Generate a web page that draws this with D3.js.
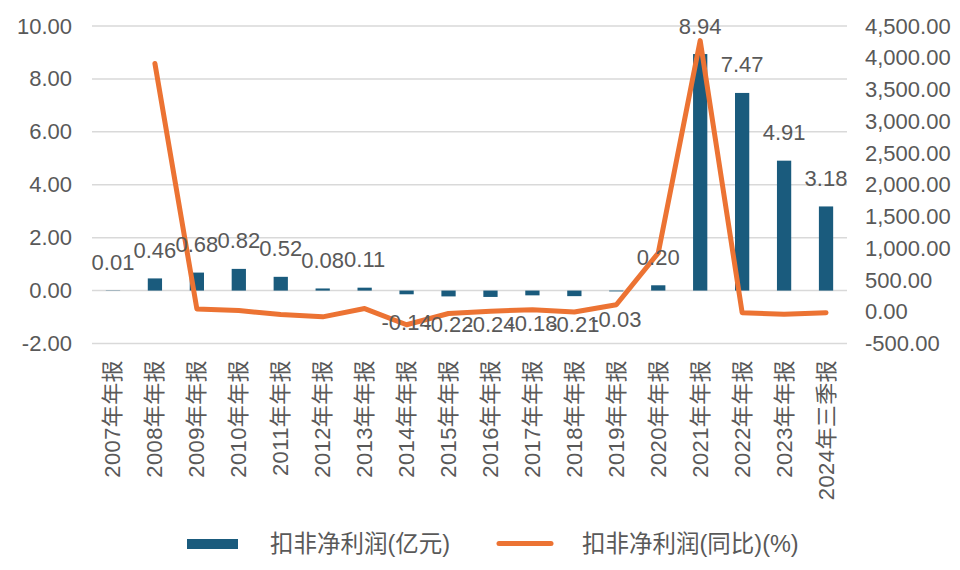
<!DOCTYPE html>
<html><head><meta charset="utf-8">
<script src="https://cdn.jsdelivr.net/npm/d3@7/dist/d3.min.js"></script>
<style>
body{margin:0;background:#fff;}
text{font-family:"Liberation Sans","Noto Sans CJK SC",Arial,sans-serif;fill:#595959;}
</style></head>
<body><svg id="chart" width="960" height="570"></svg>
<script>
const categories = ["2007年年报","2008年年报","2009年年报","2010年年报","2011年年报","2012年年报","2013年年报","2014年年报","2015年年报","2016年年报","2017年年报","2018年年报","2019年年报","2020年年报","2021年年报","2022年年报","2023年年报","2024年三季报"];
const profit = [0.01,0.46,0.68,0.82,0.52,0.08,0.11,-0.14,-0.22,-0.24,-0.18,-0.21,-0.03,0.20,8.94,7.47,4.91,3.18];
const growth = [null,3910,45,18,-45,-80,50,-205,-28,8,32,-5,110,925,4270,-15,-40,-15];
const leftTicks = [-2,0,2,4,6,8,10];
const rightTicks = [-500,0,500,1000,1500,2000,2500,3000,3500,4000,4500];
const seriesNames = ["扣非净利润(亿元)","扣非净利润(同比)(%)"];

const svg = d3.select("#chart");
const pL = 92, pR = 847, pT = 26, pB = 343.5;
const x = d3.scaleBand().domain(categories).range([pL, pR]).padding(0);
const yL = d3.scaleLinear().domain([-2,10]).range([pB, pT]);
const yR = d3.scaleLinear().domain([-500,4500]).range([pB, pT]);
const barColor = "#1a5b7d", lineColor = "#ec7333";
const loc = d3.formatLocale({decimal:".", thousands:",", grouping:[3], currency:["",""], minus:"-"});
const fmt2 = loc.format(",.2f");
const fmtL = loc.format(".2f");

// gridlines
svg.append("g").selectAll("line").data(leftTicks).join("line")
  .attr("x1", pL).attr("x2", pR)
  .attr("y1", d => yL(d)).attr("y2", d => yL(d))
  .attr("stroke", "#d9d9d9").attr("stroke-width", 1.5);

// left axis
const axL = svg.append("g").attr("transform", `translate(${pL-20},0)`)
  .call(d3.axisLeft(yL).tickValues(leftTicks).tickFormat(fmtL).tickSize(0).tickPadding(0));
axL.select(".domain").remove();
axL.selectAll("text").attr("font-size", 22).attr("fill", "#595959");

// right axis
const axR = svg.append("g").attr("transform", `translate(${pR+18},0)`)
  .call(d3.axisRight(yR).tickValues(rightTicks).tickFormat(fmt2).tickSize(0).tickPadding(0));
axR.select(".domain").remove();
axR.selectAll("text").attr("font-size", 22).attr("fill", "#595959");
svg.selectAll("g").attr("font-family", null);

// x labels
const xl = svg.append("g");
categories.forEach(c => {
  const cx = x(c) + x.bandwidth()/2;
  xl.append("text").attr("transform", `translate(${cx},360) rotate(-90)`)
    .attr("text-anchor", "end").attr("dominant-baseline", "central")
    .attr("font-size", 22).attr("letter-spacing", 0.4).text(c);
});

// bars
const bw = x.bandwidth()*0.34;
svg.append("g").selectAll("rect").data(profit).join("rect")
  .attr("x", (d,i) => x(categories[i]) + x.bandwidth()/2 - bw/2)
  .attr("width", bw)
  .attr("y", d => d >= 0 ? yL(d) : yL(0))
  .attr("height", d => Math.abs(yL(d) - yL(0)))
  .attr("fill", barColor);

// line
const line = d3.line().defined(d => d != null)
  .x((d,i) => x(categories[i]) + x.bandwidth()/2)
  .y(d => yR(d));
svg.append("path").datum(growth).attr("d", line)
  .attr("fill", "none").attr("stroke", lineColor).attr("stroke-width", 5)
  .attr("stroke-linejoin", "round").attr("stroke-linecap", "round");

// data labels
svg.append("g").selectAll("text").data(profit).join("text")
  .attr("x", (d,i) => x(categories[i]) + x.bandwidth()/2)
  .attr("y", d => d >= 0 ? yL(d) - 28 : yL(d) + 28)
  .attr("text-anchor", "middle").attr("dominant-baseline", "central")
  .attr("font-size", 22).text(d => fmtL(d));

// legend
const lg = svg.append("g");
lg.append("rect").attr("x", 187).attr("y", 539).attr("width", 51).attr("height", 10).attr("fill", barColor);
lg.append("text").attr("x", 270).attr("y", 544).attr("dominant-baseline", "central").attr("font-size", 23.5).text(seriesNames[0]);
lg.append("line").attr("x1", 499).attr("x2", 551).attr("y1", 543.5).attr("y2", 543.5)
  .attr("stroke", lineColor).attr("stroke-width", 5).attr("stroke-linecap", "round");
lg.append("text").attr("x", 582).attr("y", 544).attr("dominant-baseline", "central").attr("font-size", 23.5).text(seriesNames[1]);
</script></body></html>
